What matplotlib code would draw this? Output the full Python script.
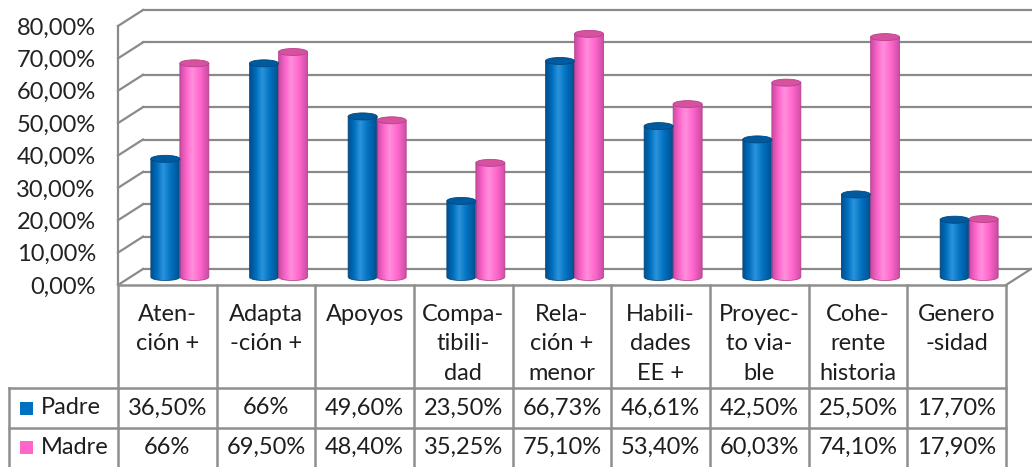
import numpy as np
import matplotlib.pyplot as plt
from matplotlib.patches import Ellipse, PathPatch, Rectangle
from matplotlib.path import Path
from matplotlib.colors import LinearSegmentedColormap

plt.rcParams['font.family'] = ['Lato', 'DejaVu Sans']

categories = ['Aten-\nción +', 'Adapta\n-ción +', 'Apoyos', 'Compa-\ntibili-\ndad',
              'Rela-\nción +\nmenor', 'Habili-\ndades\nEE +', 'Proyec-\nto via-\nble',
              'Cohe-\nrente\nhistoria', 'Genero\n-sidad']
padre = [36.50, 66, 49.60, 23.50, 66.73, 46.61, 42.50, 25.50, 17.70]
madre = [66, 69.50, 48.40, 35.25, 75.10, 53.40, 60.03, 74.10, 17.90]
series = ['Padre', 'Madre']

blue = dict(dark='#00508f', mid='#0070c0', light='#2b93dc', top='#005a9e', edge='#00467e')
pink = dict(dark='#c94ca2', mid='#ff66cc', light='#ff8fdc', top='#d6529f', edge='#b8408f')

W, H = 1032, 467
fig = plt.figure(figsize=(W / 100, H / 100), dpi=100)
# front plane of the 3d box: x 118..1006 px, y 285..26 px
ax = fig.add_axes([118 / W, (H - 285) / H, 888 / W, 259 / H])
n = len(categories)
px_x = n / 888
px_y = 80 / 259
DX, DY = 25 * px_x, 16 * px_y          # depth offset of back wall
MX, MY = DX / 2, DY / 2                # bars sit half way in

grid_c = '#8a8a8a'
for v in range(0, 81, 10):
    ax.plot([DX, n + DX], [v + DY, v + DY], color=grid_c, lw=1.6, clip_on=False, zorder=1)
    ax.plot([0, DX], [v, v + DY], color=grid_c, lw=1.6, clip_on=False, zorder=1)
ax.plot([0, 0], [0, 80], color=grid_c, lw=1.6, clip_on=False, zorder=1)
ax.plot([n, n + DX], [0, DY], color=grid_c, lw=1.6, clip_on=False, zorder=1)

grad = np.linspace(0, 1, 64).reshape(1, -1)


def cylinder(xc, val, w, eh, c):
    base = MY
    top = val + MY
    t = np.linspace(np.pi, 2 * np.pi, 40)
    verts = list(zip(xc + w / 2 * np.cos(t), base + eh / 2 * np.sin(t)))
    verts += [(xc + w / 2, top), (xc - w / 2, top), verts[0]]
    body = PathPatch(Path(verts), fc='none', ec=c['edge'], lw=0.6, zorder=4)
    ax.add_patch(body)
    cmap = LinearSegmentedColormap.from_list('c', [(0, c['dark']), (0.22, c['mid']),
                                                   (0.42, c['light']), (0.7, c['mid']),
                                                   (1, c['dark'])])
    im = ax.imshow(grad, extent=[xc - w / 2, xc + w / 2, base - eh / 2, top],
                   aspect='auto', cmap=cmap, zorder=3, interpolation='bilinear')
    im.set_clip_path(body)
    ax.add_patch(Ellipse((xc, top), w, eh, fc=c['top'], ec=c['edge'], lw=0.6, zorder=5))


bw = 29 * px_x
eh = 7 * px_y
for i in range(n):
    cx = i + 0.5 + MX
    cylinder(cx - bw / 2, padre[i], bw, eh, blue)
    cylinder(cx + bw / 2, madre[i], bw, eh, pink)

ax.set_xlim(0, n)
ax.set_ylim(0, 80)
for s in ax.spines.values():
    s.set_visible(False)
ax.patch.set_visible(False)
ax.set_xticks([])
ax.set_yticks(range(0, 81, 10))
ax.set_yticklabels([f'{v},00%' for v in range(0, 81, 10)])
ax.tick_params(axis='y', length=0, pad=16, labelsize=17, labelcolor='#222222')

# data table
tr = ax.get_xaxis_transform()
tc = '#8f8f8f'
txt = '#1e1e1e'


def fy(ypx):
    return (285 - ypx) / 259


L = (9 - 118) * px_x
ax.plot([0, n], [fy(285)] * 2, color=tc, lw=1.8, transform=tr, clip_on=False)
for yp in (388, 428):
    ax.plot([L, n], [fy(yp)] * 2, color=tc, lw=1.8, transform=tr, clip_on=False)
for i in range(n + 1):
    ax.plot([i, i], [fy(285), fy(470)], color=tc, lw=1.8, transform=tr, clip_on=False)
ax.plot([L, L], [fy(388), fy(470)], color=tc, lw=1.8, transform=tr, clip_on=False)


def fmt(v):
    if v == int(v):
        return f'{int(v)}%'
    return f'{v:.2f}%'.replace('.', ',')


for i, cat in enumerate(categories):
    ax.text(i + 0.5, fy(304), cat, transform=tr, ha='center', va='top',
            fontsize=17, color=txt, linespacing=1.5)
    ax.text(i + 0.5, fy(408), fmt(padre[i]), transform=tr, ha='center', va='center',
            fontsize=17, color=txt)
    ax.text(i + 0.5, fy(447), fmt(madre[i]), transform=tr, ha='center', va='center',
            fontsize=17, color=txt)

for name, c, yp in zip(series, [blue, pink], (408, 447)):
    ax.add_patch(Rectangle(((20 - 118) * px_x, fy(yp) - 6.5 / 259), 13 * px_x, 13 / 259,
                           transform=tr, fc=c['mid'], ec='none', clip_on=False))
    ax.text((41 - 118) * px_x, fy(yp), name, transform=tr, ha='left', va='center',
            fontsize=17, color=txt)

fig.savefig('out.png', dpi=100)
